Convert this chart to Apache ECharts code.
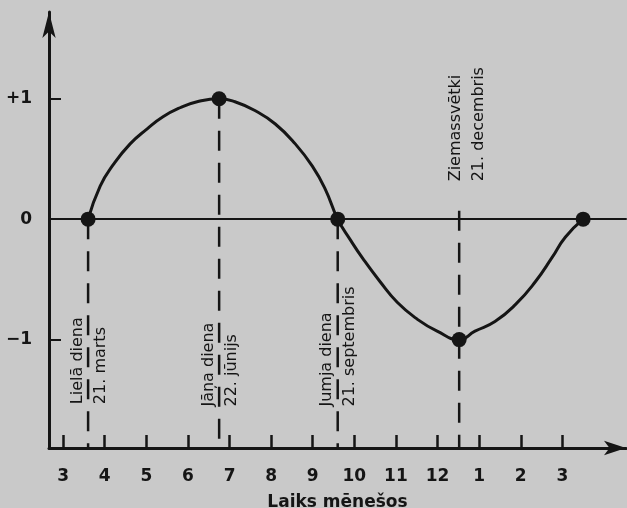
<!DOCTYPE html>
<html>
<head>
<meta charset="utf-8">
<script src="https://cdn.jsdelivr.net/npm/echarts@6/dist/echarts.min.js"></script>
<style>
  html, body { margin: 0; padding: 0; background: #c9c9c9; }
  #chart { width: 627px; height: 508px; }
</style>
</head>
<body>
<div id="chart"></div>
<script>
// Month scale: 3 = March ... 12 = December, 13..15 = January..March of the next year
const xTickValues = [3, 4, 5, 6, 7, 8, 9, 10, 11, 12, 13, 14, 15];
const xTickLabels = ['3', '4', '5', '6', '7', '8', '9', '10', '11', '12', '1', '2', '3'];
const yTickValues = [-1, 0, 1];
const yTickLabels = ['\u22121', '0', '+1'];

// Yearly curve (sampled)
const curveX = [3.6, 3.89, 4.20, 4.61, 5.02, 5.40, 5.81, 6.22, 6.75, 7.13, 7.62, 8.10, 8.58, 8.99, 9.30, 9.6,
                9.90, 10.21, 10.62, 11.03, 11.51, 11.99, 12.52, 12.90, 13.38, 13.87, 14.35, 14.75, 15.07, 15.5];
const curveY = [0, 0.275, 0.45, 0.625, 0.75, 0.85, 0.925, 0.975, 1, 0.975, 0.90, 0.79, 0.625, 0.44, 0.25, 0,
                -0.17, -0.33, -0.52, -0.69, -0.83, -0.93, -1, -0.93, -0.85, -0.71, -0.52, -0.32, -0.15, 0];

// Marked points on the curve
const keyX = [3.6, 6.75, 9.6, 12.52, 15.5];
const keyY = [0, 1, 0, -1, 0];

// Festival days: dashed marker from curve down to the time axis
const eventX = [3.6, 6.75, 9.6, 12.52];
const eventTop = [0, 1, 0, 0.07];
const eventName = ['Lielā diena', 'Jāņa diena', 'Jumja diena', 'Ziemassvētki'];
const eventDate = ['21. marts', '22. jūnijs', '21. septembris', '21. decembris'];
const eventLabelY = [-1.54, -1.56, -1.56, 0.31];

const xMin = 2.66, xMax = 16.53;
const yMin = -1.9, yMax = 1.72;

const INK = '#151515';
const FONT = 'DejaVu Sans';

const chart = echarts.init(document.getElementById('chart'), null, { renderer: 'canvas' });

const dashedSeries = eventX.map((x, i) => ({
  type: 'line',
  data: [[x, eventTop[i]], [x, yMin]],
  symbol: 'none',
  silent: true,
  z: 2,
  lineStyle: { color: INK, width: 2.5, type: [20, 12] }
}));

function labelSeries(texts, side) {
  return {
    type: 'scatter',
    symbolSize: 1,
    silent: true,
    z: 5,
    itemStyle: { color: 'transparent', opacity: 1 },
    data: eventX.map((x, i) => ({
      value: [x, eventLabelY[i]],
      label: {
        position: side === 'left'
          ? (i === 3 ? [-3, 0] : [-10, 0])
          : (i === 3 ? [20, 0] : [13, 0])
      }
    })),
    label: {
      show: true,
      rotate: 90,
      align: 'left',
      verticalAlign: 'middle',
      color: INK,
      fontFamily: FONT,
      fontSize: 16,
      formatter: p => texts[p.dataIndex]
    }
  };
}

const option = {
  backgroundColor: '#c9c9c9',
  animation: false,
  grid: { left: 49, right: 1, top: 12, bottom: 60, outerBoundsMode: 'none' },
  xAxis: [
    {
      type: 'value',
      min: xMin,
      max: xMax,
      position: 'bottom',
      name: 'Laiks mēnešos',
      nameLocation: 'middle',
      nameGap: 46,
      nameTextStyle: { color: INK, fontFamily: FONT, fontSize: 17, fontWeight: 'bold' },
      axisLine: {
        onZero: false,
        symbol: ['none', 'arrow'],
        symbolSize: [11, 22],
        lineStyle: { color: INK, width: 3 }
      },
      axisTick: {
        inside: true,
        length: 13,
        customValues: xTickValues,
        lineStyle: { color: INK, width: 2.5 }
      },
      axisLabel: {
        customValues: xTickValues,
        margin: 20,
        color: INK,
        fontFamily: FONT,
        fontSize: 17,
        fontWeight: 'bold',
        formatter: v => xTickLabels[xTickValues.indexOf(Math.round(v))]
      },
      splitLine: { show: false }
    },
    {
      // zero reference line across the chart
      type: 'value',
      min: xMin,
      max: xMax,
      position: 'top',
      axisLine: { onZero: true, lineStyle: { color: INK, width: 2 } },
      axisTick: { show: false },
      axisLabel: { show: false },
      splitLine: { show: false }
    }
  ],
  yAxis: {
    type: 'value',
    min: yMin,
    max: yMax,
    axisLine: {
      onZero: false,
      symbol: ['none', 'arrow'],
      symbolSize: [10, 26],
      lineStyle: { color: INK, width: 3 }
    },
    axisTick: {
      inside: true,
      length: 12,
      customValues: [-1, 1],
      lineStyle: { color: INK, width: 2 }
    },
    axisLabel: {
      customValues: yTickValues,
      margin: 17,
      color: INK,
      fontFamily: FONT,
      fontSize: 17,
      fontWeight: 'bold',
      formatter: v => yTickLabels[yTickValues.indexOf(Math.round(v))]
    },
    splitLine: { show: false }
  },
  series: [
    ...dashedSeries,
    {
      type: 'line',
      data: curveX.map((x, i) => [x, curveY[i]]),
      smooth: 0.5,
      symbol: 'none',
      silent: true,
      z: 3,
      lineStyle: { color: INK, width: 3 }
    },
    {
      type: 'scatter',
      data: keyX.map((x, i) => [x, keyY[i]]),
      symbol: 'circle',
      symbolSize: 15,
      silent: true,
      z: 4,
      itemStyle: { color: INK, opacity: 1 }
    },
    labelSeries(eventName, 'left'),
    labelSeries(eventDate, 'right')
  ]
};

chart.setOption(option);
</script>
</body>
</html>
